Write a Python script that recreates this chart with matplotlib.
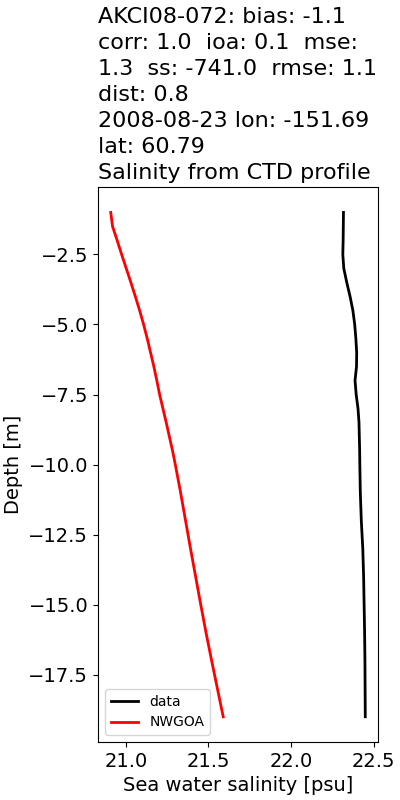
import matplotlib
matplotlib.use("Agg")
import matplotlib.pyplot as plt

# depth levels [m]
depth = [-1.0, -1.5, -2.0, -2.5, -3.0, -3.5, -4.0, -4.5, -5.0, -5.5,
         -6.0, -6.5, -7.0, -7.5, -8.0, -8.5, -9.0, -9.5, -10.0,
         -11, -12, -13, -14, -15, -16, -17, -18, -19]

# observed CTD salinity
data_sal = [22.318, 22.317, 22.316, 22.314, 22.320, 22.338, 22.358, 22.375, 22.386, 22.393,
            22.398, 22.397, 22.388, 22.395, 22.406, 22.412, 22.414, 22.416, 22.417,
            22.420, 22.426, 22.435, 22.440, 22.443, 22.446, 22.448, 22.449, 22.450]

# NWGOA model salinity
model_sal = [20.909, 20.920, 20.948, 20.975, 21.003, 21.031, 21.058, 21.084, 21.108, 21.130,
             21.150, 21.170, 21.188, 21.205, 21.225, 21.245, 21.264, 21.283, 21.300,
             21.332, 21.362, 21.392, 21.423, 21.454, 21.486, 21.520, 21.555, 21.590]

title = ("AKCI08-072: bias: -1.1\n"
         "corr: 1.0  ioa: 0.1  mse:\n"
         "1.3  ss: -741.0  rmse: 1.1\n"
         "dist: 0.8\n"
         "2008-08-23 lon: -151.69\n"
         "lat: 60.79\n"
         "Salinity from CTD profile")

plt.rcParams["font.size"] = 14

fig, ax = plt.subplots(figsize=(4, 8), dpi=100)
fig.subplots_adjust(left=0.245, right=0.945, bottom=0.0725, top=0.766)

ax.plot(data_sal, depth, color="black", lw=2, label="data")
ax.plot(model_sal, depth, color="red", lw=2, label="NWGOA")

ax.set_title(title, loc="left", fontsize=16, linespacing=1.37)
ax.set_xlabel("Sea water salinity [psu]")
ax.set_ylabel("Depth [m]")
ax.legend(loc="lower left", fontsize=10)

fig.savefig("out.png")
plt.close(fig)
